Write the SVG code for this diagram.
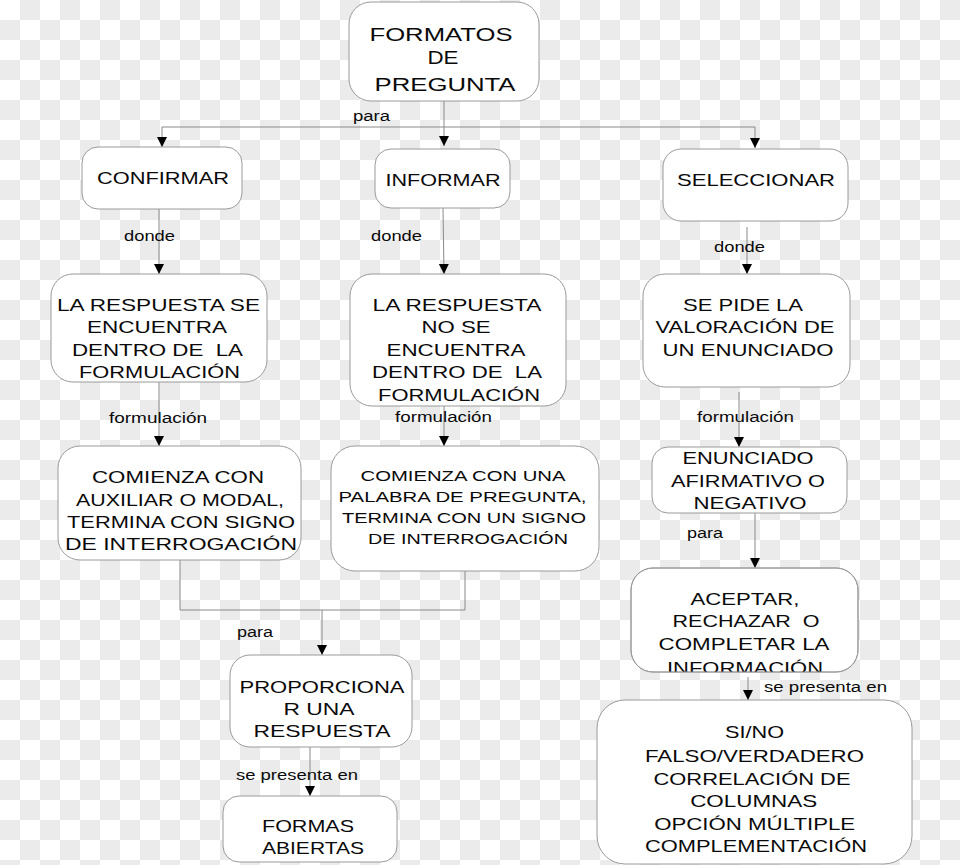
<svg xmlns="http://www.w3.org/2000/svg" width="960" height="865" viewBox="0 0 960 865">
<defs>
<pattern id="checker" x="0" y="0" width="40" height="40" patternUnits="userSpaceOnUse">
<rect x="0" y="0" width="40" height="40" fill="#ffffff"/>
<rect x="20" y="0" width="20" height="20" fill="#ebebeb"/>
<rect x="0" y="20" width="20" height="20" fill="#ebebeb"/>
</pattern>
<marker id="arrow" viewBox="0 0 10 10" refX="10" refY="5" markerUnits="userSpaceOnUse" markerWidth="10" markerHeight="13" orient="auto">
<path d="M0,0 L10,5 L0,10 z" fill="#000"/>
</marker>
<clipPath id="clipAceptar"><rect x="631" y="568" width="227" height="104"/></clipPath>
</defs>
<style>
.box{fill:#ffffff;stroke:#9a9a9a;stroke-width:1}
.t{font-family:"Liberation Sans",Arial,sans-serif;fill:#0a0a0a;text-anchor:middle;font-size:16.5px}
.lbl{font-family:"Liberation Sans",Arial,sans-serif;fill:#0a0a0a;text-anchor:start;font-size:14px}
.c{fill:none;stroke:#8a8a8a;stroke-width:1}
.ca{fill:none;stroke:#8a8a8a;stroke-width:1;marker-end:url(#arrow)}
</style>
<rect x="0" y="0" width="960" height="865" fill="url(#checker)"/>

<g id="connectors">
<path class="ca" d="M444,101 V146"/>
<path class="c" d="M162,127 H755"/>
<path class="ca" d="M162,127 V147"/>
<path class="ca" d="M755,127 V148"/>
<path class="ca" d="M159,209 V274"/>
<path class="ca" d="M443,208 L444,274"/>
<path class="ca" d="M747,227 V274"/>
<path class="ca" d="M159,382 V446"/>
<path class="ca" d="M444,406 V446"/>
<path class="ca" d="M739,392 V447"/>
<path class="ca" d="M755,513 V568"/>
<path class="c" d="M180,560 V610 H465 V571"/>
<path class="ca" d="M322,610 V655"/>
<path class="ca" d="M310,747 V796"/>
<path class="ca" d="M748,677 V700"/>
<text class="lbl" x="353" y="121" textLength="37" lengthAdjust="spacingAndGlyphs">para</text>
<text class="lbl" x="124" y="241" textLength="51" lengthAdjust="spacingAndGlyphs">donde</text>
<text class="lbl" x="371" y="241" textLength="51" lengthAdjust="spacingAndGlyphs">donde</text>
<text class="lbl" x="714" y="252" textLength="51" lengthAdjust="spacingAndGlyphs">donde</text>
<text class="lbl" x="109" y="423" textLength="98" lengthAdjust="spacingAndGlyphs">formulación</text>
<text class="lbl" x="395" y="422" textLength="97" lengthAdjust="spacingAndGlyphs">formulación</text>
<text class="lbl" x="697" y="422" textLength="97" lengthAdjust="spacingAndGlyphs">formulación</text>
<text class="lbl" x="687" y="538" textLength="36" lengthAdjust="spacingAndGlyphs">para</text>
<text class="lbl" x="237" y="637" textLength="36" lengthAdjust="spacingAndGlyphs">para</text>
<text class="lbl" x="236" y="780" textLength="122" lengthAdjust="spacingAndGlyphs">se presenta en</text>
<text class="lbl" x="764" y="692" textLength="123" lengthAdjust="spacingAndGlyphs">se presenta en</text>
</g>

<g id="formatos">
<rect class="box" x="349" y="2" width="190" height="99" rx="22"/>
<text class="t" style="font-size:18.5px" x="441" y="41" textLength="143" lengthAdjust="spacingAndGlyphs">FORMATOS</text>
<text class="t" style="font-size:18.5px" x="443" y="64" textLength="31" lengthAdjust="spacingAndGlyphs">DE</text>
<text class="t" style="font-size:18.5px" x="445" y="91" textLength="141" lengthAdjust="spacingAndGlyphs">PREGUNTA</text>
</g>

<g id="confirmar">
<rect class="box" x="82" y="147" width="160" height="62" rx="16"/>
<text class="t" x="163" y="184" textLength="132" lengthAdjust="spacingAndGlyphs">CONFIRMAR</text>
</g>

<g id="informar">
<rect class="box" x="375" y="149" width="135" height="59" rx="16"/>
<text class="t" x="443" y="186" textLength="115" lengthAdjust="spacingAndGlyphs">INFORMAR</text>
</g>

<g id="seleccionar">
<rect class="box" x="663" y="149" width="185" height="72" rx="18"/>
<text class="t" x="756" y="186" textLength="158" lengthAdjust="spacingAndGlyphs">SELECCIONAR</text>
</g>

<g id="resp-dentro">
<rect class="box" x="51" y="274" width="216" height="108" rx="22"/>
<text class="t" x="158.5" y="311" textLength="203" lengthAdjust="spacingAndGlyphs">LA RESPUESTA SE</text>
<text class="t" x="157" y="333" textLength="140" lengthAdjust="spacingAndGlyphs">ENCUENTRA</text>
<text class="t" x="157.5" y="356" textLength="171" lengthAdjust="spacingAndGlyphs" xml:space="preserve">DENTRO DE  LA</text>
<text class="t" x="159.5" y="378" textLength="161" lengthAdjust="spacingAndGlyphs">FORMULACIÓN</text>
</g>

<g id="resp-fuera">
<rect class="box" x="350" y="274" width="216" height="132" rx="22"/>
<text class="t" x="457" y="311" textLength="169" lengthAdjust="spacingAndGlyphs">LA RESPUESTA</text>
<text class="t" x="456" y="333" textLength="69" lengthAdjust="spacingAndGlyphs">NO SE</text>
<text class="t" x="456" y="356" textLength="139" lengthAdjust="spacingAndGlyphs">ENCUENTRA</text>
<text class="t" x="457" y="378" textLength="170" lengthAdjust="spacingAndGlyphs" xml:space="preserve">DENTRO DE  LA</text>
<text class="t" x="459" y="401" textLength="162" lengthAdjust="spacingAndGlyphs">FORMULACIÓN</text>
</g>

<g id="valoracion">
<rect class="box" x="643" y="274" width="207" height="113" rx="22"/>
<text class="t" x="743" y="311" textLength="120" lengthAdjust="spacingAndGlyphs">SE PIDE LA</text>
<text class="t" x="745" y="333" textLength="179" lengthAdjust="spacingAndGlyphs">VALORACIÓN DE</text>
<text class="t" x="748" y="356" textLength="171" lengthAdjust="spacingAndGlyphs">UN ENUNCIADO</text>
</g>

<g id="auxiliar">
<rect class="box" x="58" y="446" width="243" height="114" rx="22"/>
<text class="t" x="178" y="483" textLength="172" lengthAdjust="spacingAndGlyphs">COMIENZA CON</text>
<text class="t" x="180" y="506" textLength="208" lengthAdjust="spacingAndGlyphs">AUXILIAR O MODAL,</text>
<text class="t" x="181" y="528" textLength="228" lengthAdjust="spacingAndGlyphs">TERMINA CON SIGNO</text>
<text class="t" x="181" y="550" textLength="232" lengthAdjust="spacingAndGlyphs">DE INTERROGACIÓN</text>
</g>

<g id="palabra">
<rect class="box" x="331" y="446" width="268" height="125" rx="24"/>
<text class="t" style="font-size:15px" x="463" y="481" textLength="205" lengthAdjust="spacingAndGlyphs">COMIENZA CON UNA</text>
<text class="t" style="font-size:15px" x="462.5" y="502" textLength="248" lengthAdjust="spacingAndGlyphs">PALABRA DE PREGUNTA,</text>
<text class="t" style="font-size:15px" x="464" y="523" textLength="244" lengthAdjust="spacingAndGlyphs">TERMINA CON UN SIGNO</text>
<text class="t" style="font-size:15px" x="468" y="544" textLength="200" lengthAdjust="spacingAndGlyphs">DE INTERROGACIÓN</text>
</g>

<g id="enunciado">
<rect class="box" x="652" y="447" width="195" height="66" rx="16"/>
<text class="t" x="748" y="464" textLength="131" lengthAdjust="spacingAndGlyphs">ENUNCIADO</text>
<text class="t" x="748" y="487" textLength="154" lengthAdjust="spacingAndGlyphs">AFIRMATIVO O</text>
<text class="t" x="750" y="509" textLength="113" lengthAdjust="spacingAndGlyphs">NEGATIVO</text>
</g>

<g id="proporcionar">
<rect class="box" x="230" y="655" width="182" height="92" rx="20"/>
<text class="t" x="322" y="693" textLength="165" lengthAdjust="spacingAndGlyphs">PROPORCIONA</text>
<text class="t" x="319" y="715" textLength="71" lengthAdjust="spacingAndGlyphs">R UNA</text>
<text class="t" x="322" y="737" textLength="137" lengthAdjust="spacingAndGlyphs">RESPUESTA</text>
</g>

<g id="formas-abiertas">
<rect class="box" x="223" y="796" width="174" height="66" rx="16"/>
<text class="t" x="308" y="832" textLength="92" lengthAdjust="spacingAndGlyphs">FORMAS</text>
<text class="t" x="313" y="854" textLength="102" lengthAdjust="spacingAndGlyphs">ABIERTAS</text>
</g>

<g id="aceptar">
<rect class="box" x="631" y="568" width="227" height="104" rx="22"/>
<text class="t" x="745" y="605" textLength="109" lengthAdjust="spacingAndGlyphs">ACEPTAR,</text>
<text class="t" x="746" y="627" textLength="147" lengthAdjust="spacingAndGlyphs" xml:space="preserve">RECHAZAR  O</text>
<text class="t" x="744" y="650" textLength="171" lengthAdjust="spacingAndGlyphs">COMPLETAR LA</text>
<text class="t" x="745" y="674" textLength="156" lengthAdjust="spacingAndGlyphs" clip-path="url(#clipAceptar)">INFORMACIÓN</text>
<rect x="631" y="568" width="227" height="104" rx="22" fill="none" stroke="#9a9a9a" stroke-width="1"/>
</g>

<g id="tipos">
<rect class="box" x="597" y="700" width="315" height="164" rx="28"/>
<text class="t" x="754.5" y="738" textLength="59" lengthAdjust="spacingAndGlyphs">SI/NO</text>
<text class="t" x="754.5" y="762" textLength="219" lengthAdjust="spacingAndGlyphs">FALSO/VERDADERO</text>
<text class="t" x="752" y="785" textLength="197" lengthAdjust="spacingAndGlyphs">CORRELACIÓN DE</text>
<text class="t" x="753.7" y="807" textLength="127" lengthAdjust="spacingAndGlyphs">COLUMNAS</text>
<text class="t" x="754.7" y="830" textLength="201" lengthAdjust="spacingAndGlyphs">OPCIÓN MÚLTIPLE</text>
<text class="t" x="756" y="852" textLength="222" lengthAdjust="spacingAndGlyphs">COMPLEMENTACIÓN</text>
</g>
</svg>
